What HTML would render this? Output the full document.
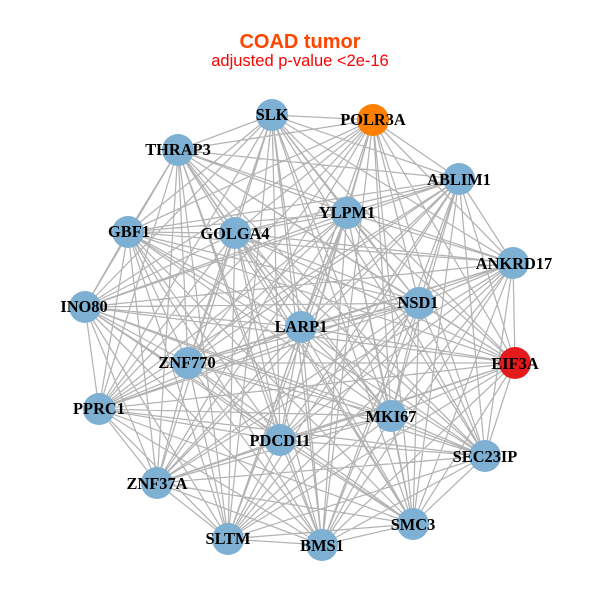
<!DOCTYPE html>
<html><head><meta charset="utf-8"><style>
html,body{margin:0;padding:0;background:#fff;width:600px;height:600px;overflow:hidden}
svg{display:block}
.l{font:bold 16.4px "Liberation Serif",serif;fill:#000;text-anchor:middle}
</style></head><body>
<svg width="600" height="600" viewBox="0 0 600 600" xmlns="http://www.w3.org/2000/svg">
<rect width="600" height="600" fill="#fff"/>
<text x="300" y="48" text-anchor="middle" style="font:bold 20px 'Liberation Sans',sans-serif" fill="#ff4500">COAD tumor</text>
<text x="300" y="66" text-anchor="middle" style="font:16.5px 'Liberation Sans',sans-serif" fill="#ff0000">adjusted p-value &lt;2e-16</text>
<path fill="none" stroke="#b3b3b3" stroke-width="1.25" d="
M272 115L373 120M272 115L178 150M272 115L459 179M272 115L347 213M272 115L128 232M272 115L235 233M272 115L513 263M272 115L85 307M272 115L419 303M272 115L301 327M272 115L188 363M272 115L515 363M272 115L99 409M272 115L391 416M272 115L280 440M272 115L485 456M272 115L157 483M272 115L413 524M272 115L228 539M272 115L322 545
M373 120L178 150M373 120L459 179M373 120L347 213M373 120L128 232M373 120L235 233M373 120L513 263M373 120L85 307M373 120L419 303M373 120L301 327M373 120L188 363M373 120L515 363M373 120L99 409M373 120L391 416M373 120L280 440M373 120L485 456M373 120L157 483M373 120L413 524M373 120L228 539M373 120L322 545
M178 150L459 179M178 150L347 213M178 150L128 232M178 150L235 233M178 150L513 263M178 150L85 307M178 150L419 303M178 150L301 327M178 150L188 363M178 150L515 363M178 150L99 409M178 150L391 416M178 150L280 440M178 150L485 456M178 150L157 483M178 150L413 524M178 150L228 539M178 150L322 545
M459 179L347 213M459 179L128 232M459 179L235 233M459 179L513 263M459 179L85 307M459 179L419 303M459 179L301 327M459 179L188 363M459 179L515 363M459 179L99 409M459 179L391 416M459 179L280 440M459 179L485 456M459 179L157 483M459 179L413 524M459 179L228 539M459 179L322 545
M347 213L128 232M347 213L235 233M347 213L513 263M347 213L85 307M347 213L419 303M347 213L301 327M347 213L188 363M347 213L515 363M347 213L99 409M347 213L391 416M347 213L280 440M347 213L485 456M347 213L157 483M347 213L413 524M347 213L228 539M347 213L322 545
M128 232L235 233M128 232L513 263M128 232L85 307M128 232L419 303M128 232L301 327M128 232L188 363M128 232L515 363M128 232L99 409M128 232L391 416M128 232L280 440M128 232L485 456M128 232L157 483M128 232L413 524M128 232L228 539M128 232L322 545
M235 233L513 263M235 233L85 307M235 233L419 303M235 233L301 327M235 233L188 363M235 233L515 363M235 233L99 409M235 233L391 416M235 233L280 440M235 233L485 456M235 233L157 483M235 233L413 524M235 233L228 539M235 233L322 545
M513 263L85 307M513 263L419 303M513 263L301 327M513 263L188 363M513 263L515 363M513 263L99 409M513 263L391 416M513 263L280 440M513 263L485 456M513 263L157 483M513 263L413 524M513 263L228 539M513 263L322 545
M85 307L419 303M85 307L301 327M85 307L188 363M85 307L515 363M85 307L99 409M85 307L391 416M85 307L280 440M85 307L485 456M85 307L157 483M85 307L413 524M85 307L228 539M85 307L322 545
M419 303L301 327M419 303L188 363M419 303L515 363M419 303L99 409M419 303L391 416M419 303L280 440M419 303L485 456M419 303L157 483M419 303L413 524M419 303L228 539M419 303L322 545
M301 327L188 363M301 327L515 363M301 327L99 409M301 327L391 416M301 327L280 440M301 327L485 456M301 327L157 483M301 327L413 524M301 327L228 539M301 327L322 545
M188 363L515 363M188 363L99 409M188 363L391 416M188 363L280 440M188 363L485 456M188 363L157 483M188 363L413 524M188 363L228 539M188 363L322 545
M515 363L99 409M515 363L391 416M515 363L280 440M515 363L485 456M515 363L157 483M515 363L413 524M515 363L228 539M515 363L322 545
M99 409L391 416M99 409L280 440M99 409L485 456M99 409L157 483M99 409L413 524M99 409L228 539M99 409L322 545
M391 416L280 440M391 416L485 456M391 416L157 483M391 416L413 524M391 416L228 539M391 416L322 545
M280 440L485 456M280 440L157 483M280 440L413 524M280 440L228 539M280 440L322 545
M485 456L157 483M485 456L413 524M485 456L228 539M485 456L322 545
M157 483L413 524M157 483L228 539M157 483L322 545
M413 524L228 539M413 524L322 545
M228 539L322 545"/>
<g fill="#7eb0d3">
<circle cx="272" cy="115" r="16"/>
<circle cx="373" cy="120" r="16" fill="#ff7f00"/>
<circle cx="178" cy="150" r="16"/>
<circle cx="459" cy="179" r="16"/>
<circle cx="347" cy="213" r="16"/>
<circle cx="128" cy="232" r="16"/>
<circle cx="235" cy="233" r="16"/>
<circle cx="513" cy="263" r="16"/>
<circle cx="85" cy="307" r="16"/>
<circle cx="419" cy="303" r="16"/>
<circle cx="301" cy="327" r="16"/>
<circle cx="188" cy="363" r="16"/>
<circle cx="515" cy="363" r="16" fill="#e41a1c"/>
<circle cx="99" cy="409" r="16"/>
<circle cx="391" cy="416" r="16"/>
<circle cx="280" cy="440" r="16"/>
<circle cx="485" cy="456" r="16"/>
<circle cx="157" cy="483" r="16"/>
<circle cx="413" cy="524" r="16"/>
<circle cx="228" cy="539" r="16"/>
<circle cx="322" cy="545" r="16"/>
</g>
<g>
<text class="l" x="272" y="120">SLK</text>
<text class="l" x="373" y="125">POLR3A</text>
<text class="l" x="178" y="155">THRAP3</text>
<text class="l" x="459" y="185">ABLIM1</text>
<text class="l" x="347" y="218">YLPM1</text>
<text class="l" x="129" y="237">GBF1</text>
<text class="l" x="235" y="239">GOLGA4</text>
<text class="l" x="514" y="269">ANKRD17</text>
<text class="l" x="84" y="312">INO80</text>
<text class="l" x="418" y="308">NSD1</text>
<text class="l" x="301" y="332">LARP1</text>
<text class="l" x="187" y="368">ZNF770</text>
<text class="l" x="515" y="369">EIF3A</text>
<text class="l" x="99" y="414">PPRC1</text>
<text class="l" x="391" y="422">MKI67</text>
<text class="l" x="280" y="446">PDCD11</text>
<text class="l" x="485" y="462">SEC23IP</text>
<text class="l" x="157" y="489">ZNF37A</text>
<text class="l" x="413" y="530">SMC3</text>
<text class="l" x="228" y="544">SLTM</text>
<text class="l" x="322" y="551">BMS1</text>
</g>
</svg>
</body></html>
